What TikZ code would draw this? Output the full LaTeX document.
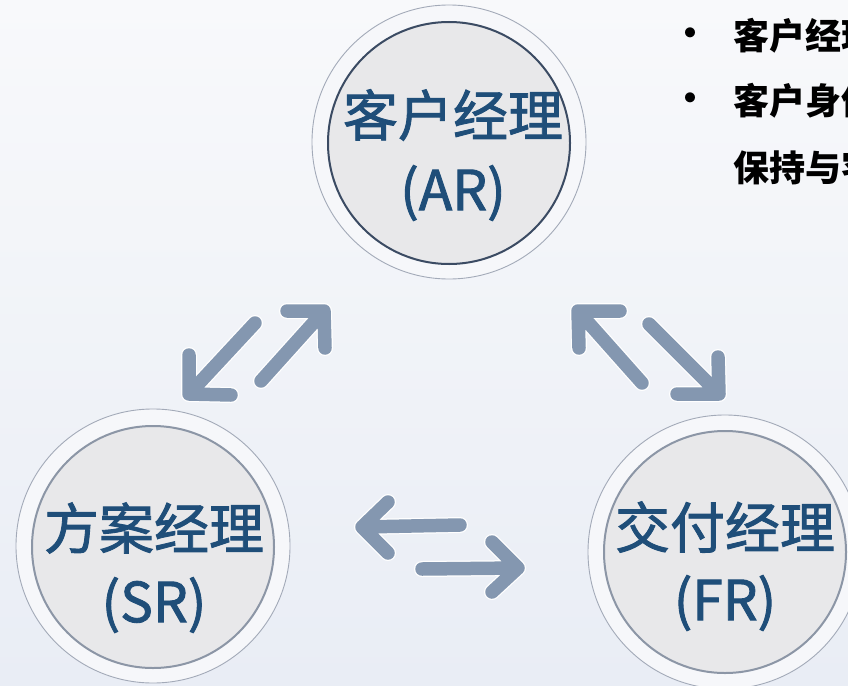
\documentclass[tikz,border=0pt]{standalone}
\usepackage{fontspec}
\newfontfamily\cjk{Noto Sans CJK SC}
\newfontfamily\cjkm[FakeBold=1.6]{Noto Sans CJK SC}
\definecolor{bgA}{HTML}{F8F9FB}
\definecolor{bgB}{HTML}{E9EDF5}
\definecolor{ringgray}{HTML}{A3AAB8}
\definecolor{ringfill}{HTML}{F6F7FA}
\definecolor{innerfill}{HTML}{E8E8EA}
\definecolor{darkedge}{HTML}{3B4B63}
\definecolor{grayedge}{HTML}{8C96A6}
\definecolor{titleblue}{HTML}{1F4E79}
\definecolor{arrowc}{HTML}{8497B0}
\newcommand\dblarr[4]{%
  \draw[arr, arrowc!80!white, shift={(2,2)}] (#1) -- (#2) (#3) -- (#2) -- (#4);
  \draw[halo] (#1) -- (#2) (#3) -- (#2) -- (#4);
  \draw[arr] (#1) -- (#2) (#3) -- (#2) -- (#4);}
\begin{document}
\begin{tikzpicture}[x=1pt,y=-1pt,
  outerc/.style={circle, draw=ringgray, line width=0.9pt, fill=ringfill, minimum size=274pt, inner sep=0pt},
  innerc/.style={circle, fill=innerfill, minimum size=242pt, inner sep=0pt, line width=2pt},
  lbl/.style={text=titleblue, font=\cjkm\fontsize{55}{66}\selectfont, inner sep=0pt},
  bul/.style={text=black, font=\cjk\bfseries\fontsize{36}{40}\selectfont, inner sep=0pt, anchor=west},
  arr/.style={draw=arrowc, line width=13.5pt, line cap=round, line join=round},
  halo/.style={draw=white, line width=16pt, line cap=round, line join=round},
]
\useasboundingbox (0,0) rectangle (848,685);
\clip (0,0) rectangle (848,685);
\shade[left color=bgA, right color=bgB, shading angle=0] (0,0) rectangle (848,685);

% circles
\node[outerc] (arO) at (449,142) {};
\node[innerc, draw=darkedge] (ar) at (449,143) {};
\node[outerc] (srO) at (153,546) {};
\node[innerc, draw=grayedge] (sr) at (153,547) {};
\node[outerc] (frO) at (725,552) {};
\node[innerc, draw=grayedge] (fr) at (725,552) {};

% labels
\node[lbl] (ar1) at (453,115) {客户经理};
\node[lbl] (ar2) at (453,193) {(AR)};
\node[lbl] (sr1) at (154,528) {方案经理};
\node[lbl] (sr2) at (154,605) {(SR)};
\node[lbl] (fr1) at (725,527) {交付经理};
\node[lbl] (fr2) at (725,603) {(FR)};

% arrows AR <-> SR
\coordinate (a1t) at (255,323); \coordinate (a1h) at (189,394);
\coordinate (a1p) at (189,355); \coordinate (a1q) at (231,395);
\coordinate (a2t) at (261,381); \coordinate (a2h) at (324,311);
\coordinate (a2p) at (287,311); \coordinate (a2q) at (325,348);
% arrows AR <-> FR
\coordinate (a3t) at (642,383); \coordinate (a3h) at (578,311);
\coordinate (a3p) at (620,311); \coordinate (a3q) at (579,348);
\coordinate (a4t) at (649,324); \coordinate (a4h) at (719,394);
\coordinate (a4p) at (718,357); \coordinate (a4q) at (677,394);
% arrows SR <-> FR
\coordinate (a5t) at (460,525); \coordinate (a5h) at (362,527);
\coordinate (a5p) at (388,502); \coordinate (a5q) at (388,553);
\coordinate (a6t) at (422,569); \coordinate (a6h) at (518,568);
\coordinate (a6p) at (492,542); \coordinate (a6q) at (492,592);
\dblarr{a1t}{a1h}{a1p}{a1q}
\dblarr{a2t}{a2h}{a2p}{a2q}
\dblarr{a3t}{a3h}{a3p}{a3q}
\dblarr{a4t}{a4h}{a4p}{a4q}
\dblarr{a5t}{a5h}{a5p}{a5q}
\dblarr{a6t}{a6h}{a6p}{a6q}

% bullet text (cropped at right edge, as in the reference)
\node[bul, anchor=center, font=\cjk\bfseries\fontsize{36}{40}\selectfont] (b1) at (690,37) {•};
\node[bul, anchor=center, font=\cjk\bfseries\fontsize{36}{40}\selectfont] (b2) at (690,102) {•};
\node[bul] (t1) at (733,36) {客户经理};
\node[bul] (t2) at (733,101) {客户身份};
\node[bul] (t3) at (733,168) {保持与客};
\end{tikzpicture}
\end{document}
